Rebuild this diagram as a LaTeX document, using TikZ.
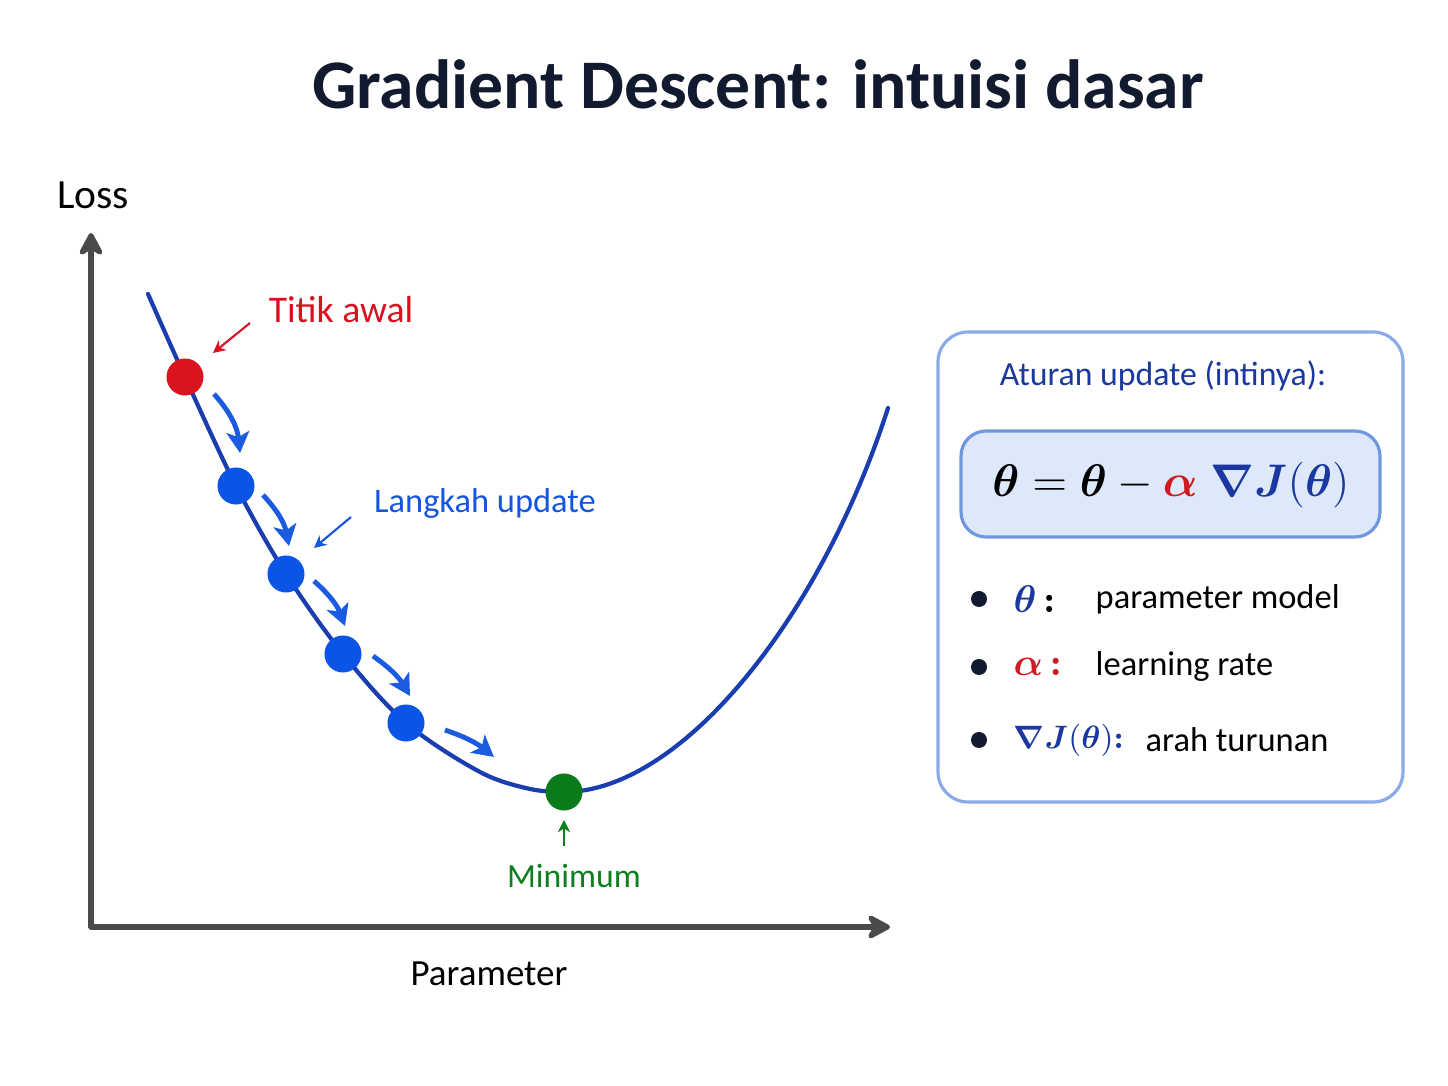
\RequirePackage{fix-cm}
\documentclass[tikz,border=0pt]{standalone}
\usepackage{fontspec}
\usepackage{amsmath,bm}
\setmainfont{Carlito}
\usetikzlibrary{arrows.meta}
\definecolor{titlec}{HTML}{111A2E}
\definecolor{axisc}{HTML}{4A4A4A}
\definecolor{curvec}{HTML}{1A3DB0}
\definecolor{dotred}{HTML}{D9141E}
\definecolor{dotblue}{HTML}{0A55E6}
\definecolor{dotgreen}{HTML}{0A7A1A}
\definecolor{stepc}{HTML}{1A5BE0}
\definecolor{labred}{HTML}{D91020}
\definecolor{labblue}{HTML}{1655E0}
\definecolor{labgreen}{HTML}{0E7F1E}
\definecolor{boxborder}{HTML}{8AAAE8}
\definecolor{innerfill}{HTML}{DDE8FA}
\definecolor{innerborder}{HTML}{6F97E0}
\definecolor{darkblue}{HTML}{1A38A0}
\definecolor{mred}{HTML}{D01A22}
\tikzset{
  dotnode/.style={circle, inner sep=0pt, minimum size=0.37cm},
  stepar/.style={stepc, line width=1.4pt, -{Stealth[length=6pt,width=6.5pt,inset=1.5pt]}},
  labar/.style={line width=0.6pt, -{Stealth[length=3.5pt,width=3.5pt]}},
  axisar/.style={axisc, line width=1.45pt, line cap=round, -{Stealth[length=8pt,width=8.5pt,inset=2.5pt,round]}},
  txt/.style={inner sep=0pt, anchor=center}
}
\newcommand{\bcolon}{\mathord{\bm{:}}}
\begin{document}
\begin{tikzpicture}[x=0.01cm,y=-0.01cm]
\useasboundingbox (0,0) rectangle (1448,1086);
\fill[white] (0,0) rectangle (1448,1086);
% title
\node[txt, text=titlec] (title) at (758,84) {\fontsize{19.8}{22}\selectfont\bfseries Gradient Descent: intuisi dasar};
% axes
\coordinate (origin) at (91,927);
\coordinate (ytip) at (91,233);
\coordinate (xtip) at (890,927);
\draw[axisar] (origin) -- (ytip);
\draw[axisar] (origin) -- (xtip);
\node[txt] (loss) at (93,195) {\fontsize{11.8}{14}\selectfont Loss};
\node[txt] (param) at (489,974) {\fontsize{10.5}{13}\selectfont Parameter};
% curve points
\coordinate (c0) at (185,377);
\coordinate (c1) at (236,486);
\coordinate (c2) at (286,574);
\coordinate (c3) at (343,654);
\coordinate (c4) at (406,723);
\coordinate (cm) at (564,792);
\draw[curvec, line width=1.2pt, line cap=round]
  plot[smooth, tension=0.55] coordinates {(148,294) (c0) (c1) (c2) (c3) (c4) (480,772) (530,789) (cm)};
\draw[curvec, line width=1.2pt, line cap=round]
  (cm) .. controls (680,792) and (820,620) .. (888,408);
% dots
\node[dotnode, fill=dotred] (d0) at (c0) {};
\node[dotnode, fill=dotblue] (d1) at (c1) {};
\node[dotnode, fill=dotblue] (d2) at (c2) {};
\node[dotnode, fill=dotblue] (d3) at (c3) {};
\node[dotnode, fill=dotblue] (d4) at (c4) {};
\node[dotnode, fill=dotgreen] (dm) at (cm) {};
% step arrows
\coordinate (s1a) at (214,394); \coordinate (s1b) at (240,453);
\coordinate (s2a) at (263,495); \coordinate (s2b) at (289,546);
\coordinate (s3a) at (314,581); \coordinate (s3b) at (345,626);
\coordinate (s4a) at (373,656); \coordinate (s4b) at (410,696);
\coordinate (s5a) at (445,730); \coordinate (s5b) at (494,757);
\draw[stepar] (s1a) to[bend left=18] (s1b);
\draw[stepar] (s2a) to[bend left=16] (s2b);
\draw[stepar] (s3a) to[bend left=14] (s3b);
\draw[stepar] (s4a) to[bend left=12] (s4b);
\draw[stepar] (s5a) to[bend left=10] (s5b);
% labels
\node[txt, text=labred] (titik) at (341,310) {\fontsize{10.7}{13}\selectfont Titik awal};
\coordinate (t1) at (250,323); \coordinate (t2) at (213,353);
\draw[labar, labred] (t1) -- (t2);
\node[txt, text=labblue] (langkah) at (485,504) {\fontsize{9.8}{12}\selectfont Langkah update};
\coordinate (l1) at (351,517); \coordinate (l2) at (314,548);
\draw[labar, labblue] (l1) -- (l2);
\node[txt, text=labgreen] (minimum) at (574,876) {\fontsize{9.6}{12}\selectfont Minimum};
\coordinate (m1) at (564,846); \coordinate (m2) at (564,820);
\draw[labar, labgreen] (m1) -- (m2);
% right panel
\draw[boxborder, line width=0.9pt, fill=white, rounded corners=0.3cm] (938,332) rectangle (1403,802);
\node[txt, text=darkblue] (rule) at (1163,376) {\fontsize{9.6}{12}\selectfont Aturan update (intinya):};
\draw[innerborder, line width=0.9pt, fill=innerfill, rounded corners=0.25cm] (961,431) rectangle (1380,537);
\node[txt] (formula) at (1171,485) {\fontsize{13}{16}\selectfont $\bm{\theta} = \bm{\theta} - \textcolor{mred}{\bm{\alpha}}\;\textcolor{darkblue}{\bm{\nabla} \bm{J}(\bm{\theta})}$};
% bullets
\fill[titlec] (979,599) circle (8);
\fill[titlec] (979,667) circle (8);
\fill[titlec] (979,740) circle (8);
\node[txt, anchor=west] (b1s) at (1013,599) {\fontsize{11}{13}\selectfont $\textcolor{darkblue}{\bm{\theta}}\,\bcolon$};
\node[txt, anchor=west] (b2s) at (1013,667) {\fontsize{11}{13}\selectfont $\textcolor{mred}{\bm{\alpha}\,\bcolon}$};
\node[txt, anchor=west] (b3s) at (1013,740) {\fontsize{9.2}{12}\selectfont $\textcolor{darkblue}{\bm{\nabla}\bm{J}(\bm{\theta})\bcolon}$};
\node[txt, anchor=west] (b1t) at (1095,599) {\fontsize{9.8}{12}\selectfont parameter model};
\node[txt, anchor=west] (b2t) at (1095,667) {\fontsize{9.8}{12}\selectfont learning rate};
\node[txt, anchor=west] (b3t) at (1145,740) {\fontsize{9.8}{12}\selectfont arah turunan};
\end{tikzpicture}
\end{document}
